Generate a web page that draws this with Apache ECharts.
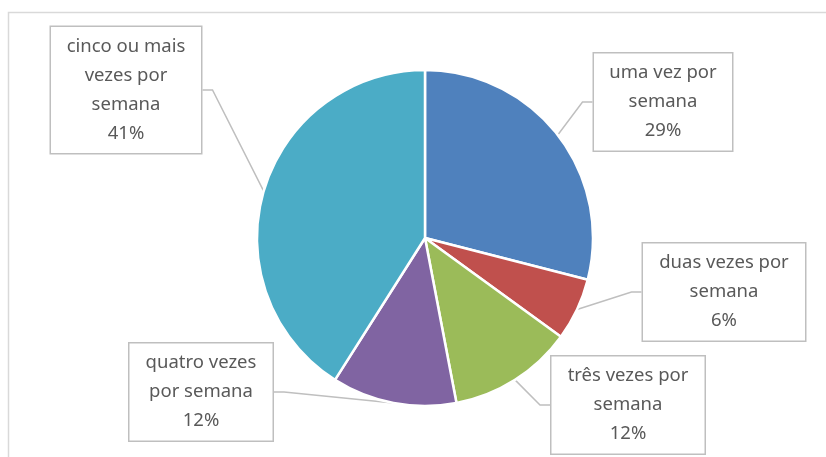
<!DOCTYPE html>
<html>
<head>
<meta charset="utf-8">
<script src="https://cdn.jsdelivr.net/npm/echarts@6/dist/echarts.min.js"></script>
<style>
  html, body { margin: 0; padding: 0; background: #fff; }
  #main { width: 826px; height: 457px; }
</style>
</head>
<body>
<div id="main"></div>
<script>
// dados
var categories = ['uma vez por semana', 'duas vezes por semana', 'três vezes por semana', 'quatro vezes por semana', 'cinco ou mais vezes por semana'];
var labelLines = [
  ['uma vez por', 'semana'],
  ['duas vezes por', 'semana'],
  ['três vezes por', 'semana'],
  ['quatro vezes', 'por semana'],
  ['cinco ou mais', 'vezes por', 'semana']
];
var values = [29, 6, 12, 12, 41];
var colors = ['#4F81BD', '#C0504D', '#9BBB59', '#8064A2', '#4BACC6'];

// onde fica cada caixa (centro) e sua largura
var boxPos = [[663, 102], [724, 292], [628, 405], [201, 392], [126, 90]];
var boxWidth = [116, 140, 131, 121, 128];

var chartDom = document.getElementById('main');
var myChart = echarts.init(chartDom);

var total = values.reduce(function (a, b) { return a + b; }, 0);

var option = {
  animation: false,
  color: colors,
  graphic: [{
    type: 'rect',
    shape: { x: 8.5, y: 12.5, width: 840, height: 480 },
    style: { fill: 'none', stroke: '#D9D9D9', lineWidth: 1.5 },
    silent: true
  }],
  series: [{
    type: 'pie',
    center: [425, 238],
    radius: 168,
    startAngle: 90,
    clockwise: true,
    itemStyle: { borderColor: '#fff', borderWidth: 2.5 },
    data: categories.map(function (c, i) {
      return {
        name: c,
        value: values[i],
        label: { width: boxWidth[i] }
      };
    }),
    label: {
      show: true,
      position: 'outside',
      formatter: function (p) {
        var pct = Math.round(p.value / total * 100) + '%';
        return labelLines[p.dataIndex].concat([pct]).join('\n');
      },
      fontFamily: 'Noto Sans, sans-serif',
      fontSize: 18.5,
      lineHeight: 29,
      color: '#595959',
      align: 'center',
      overflow: 'none',
      backgroundColor: '#fff',
      borderColor: '#BFBFBF',
      borderWidth: 1.5,
      padding: [5, 11]
    },
    labelLine: {
      show: true,
      length: 10,
      length2: 10,
      lineStyle: { color: '#BFBFBF', width: 1.5 }
    },
    labelLayout: function (params) {
      var p = boxPos[params.dataIndex];
      return {
        x: p[0],
        y: p[1],
        align: 'center',
        verticalAlign: 'middle'
      };
    }
  }]
};

myChart.setOption(option);
</script>
</body>
</html>
